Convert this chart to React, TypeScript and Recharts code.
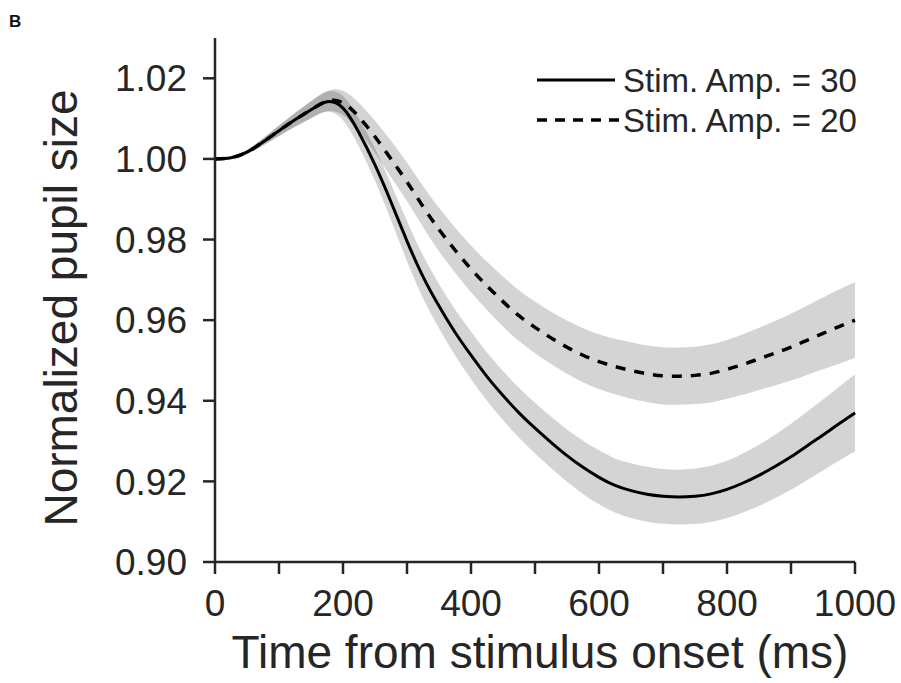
import React from 'react';
import { ComposedChart, Area, Line, XAxis, YAxis, Legend, Label } from 'recharts';

const FONT = '"Liberation Sans", Arial, Helvetica, sans-serif';
const INK = '#262626';

// time axis (ms)
const timeMs = [
  0, 25, 50, 75, 100, 125, 150, 175, 200, 225, 250, 275, 300, 325, 350, 375, 400, 425, 450, 475,
  500, 525, 550, 575, 600, 625, 650, 675, 700, 725, 750, 775, 800, 825, 850, 875, 900, 925, 950, 975, 1000,
];

// mean normalized pupil size, stim amp 30 (solid)
const amp30 = [
  1.0, 1.0003, 1.0017, 1.0042, 1.007, 1.0097, 1.0122, 1.0142, 1.0126, 1.0065, 0.9985, 0.9893, 0.9796, 0.9708,
  0.9635, 0.957, 0.9513, 0.946, 0.9413, 0.937, 0.9332, 0.9297, 0.9264, 0.9235, 0.921, 0.919, 0.9177, 0.9168,
  0.9163, 0.9161, 0.9163, 0.9169, 0.918, 0.9196, 0.9215, 0.9237, 0.9261, 0.9288, 0.9315, 0.9343, 0.937,
];

// mean normalized pupil size, stim amp 20 (dashed)
const amp20 = [
  1.0, 1.0003, 1.0017, 1.0042, 1.007, 1.0097, 1.0122, 1.0143, 1.0139, 1.0104, 1.0055, 1.0, 0.9943, 0.9882,
  0.9825, 0.9774, 0.9727, 0.9685, 0.9646, 0.9611, 0.9582, 0.9556, 0.9533, 0.9513, 0.9497, 0.9485, 0.9475,
  0.9467, 0.9462, 0.9461, 0.9463, 0.9468, 0.9478, 0.949, 0.9504, 0.9518, 0.9533, 0.955, 0.9567, 0.9584, 0.96,
];

// half-width of the shaded error band
const sem30 = [
  0, 0.0002, 0.0005, 0.0009, 0.0013, 0.0017, 0.0021, 0.0025, 0.003, 0.0035, 0.004, 0.0045, 0.005, 0.0053,
  0.0055, 0.0057, 0.0059, 0.006, 0.0061, 0.0062, 0.0063, 0.0064, 0.0065, 0.0066, 0.0067, 0.0067, 0.0068,
  0.0068, 0.0068, 0.0068, 0.0069, 0.007, 0.0071, 0.0073, 0.0076, 0.0079, 0.0082, 0.0085, 0.0088, 0.0092, 0.0095,
];
const sem20 = [
  0, 0.0002, 0.0005, 0.0009, 0.0013, 0.0017, 0.0021, 0.0025, 0.003, 0.0035, 0.004, 0.0045, 0.0048, 0.0051,
  0.0054, 0.0056, 0.0058, 0.006, 0.0062, 0.0063, 0.0064, 0.0065, 0.0066, 0.0067, 0.0068, 0.0069, 0.007,
  0.007, 0.0071, 0.0071, 0.0071, 0.0072, 0.0073, 0.0075, 0.0077, 0.008, 0.0083, 0.0086, 0.0089, 0.0092, 0.0094,
];

const seriesNames = ['Stim. Amp. = 30', 'Stim. Amp. = 20'];
const xTicks = [0, 100, 200, 300, 400, 500, 600, 700, 800, 900, 1000];
const yTicks = [0.9, 0.92, 0.94, 0.96, 0.98, 1.0, 1.02];

const rows = timeMs.map((t, i) => ({
  t,
  amp30: amp30[i],
  amp20: amp20[i],
  band30: [amp30[i] - sem30[i], amp30[i] + sem30[i]],
  band20: [amp20[i] - sem20[i], amp20[i] + sem20[i]],
}));

const LegendBox = () => (
  <svg width={340} height={90}>
    <line x1={7} x2={85} y1={20} y2={20} stroke="#000" strokeWidth={3} />
    <text x={93} y={32} fontSize={33} fill={INK} fontFamily={FONT}>{seriesNames[0]}</text>
    <line x1={7} x2={90} y1={60} y2={60} stroke="#000" strokeWidth={3.5} strokeDasharray="10 8" />
    <text x={93} y={72} fontSize={33} fill={INK} fontFamily={FONT}>{seriesNames[1]}</text>
  </svg>
);

export default function App() {
  const axisStyle = { stroke: INK, strokeWidth: 2.5 };
  return (
    <div style={{ position: 'absolute', left: 0, top: 0, width: 901, height: 683, background: '#fff', fontFamily: FONT }}>
      <div style={{ position: 'absolute', left: 9, top: 13, fontSize: 17, lineHeight: 1, fontWeight: 'bold', color: '#111' }}>B</div>
      <ComposedChart width={901} height={683} data={rows} margin={{ top: 38, right: 46, bottom: 0, left: 0 }}>
        <XAxis
          dataKey="t"
          type="number"
          domain={[0, 1000]}
          ticks={xTicks}
          interval={0}
          height={121}
          tickSize={12}
          tickMargin={16}
          axisLine={axisStyle}
          tickLine={axisStyle}
          tick={{ fontSize: 37, fill: INK, fontFamily: FONT }}
          tickFormatter={(v: number) => (v % 200 === 0 ? String(v) : '')}
        >
          <Label
            content={() => (
              <text x={540} y={668} textAnchor="middle" fontSize={46} fill={INK} fontFamily={FONT}>
                Time from stimulus onset (ms)
              </text>
            )}
          />
        </XAxis>
        <YAxis
          type="number"
          domain={[0.9, 1.03]}
          ticks={yTicks}
          interval={0}
          width={215}
          tickSize={12}
          tickMargin={16}
          axisLine={axisStyle}
          tickLine={axisStyle}
          allowDataOverflow
          tick={{ fontSize: 37, fill: INK, fontFamily: FONT }}
          tickFormatter={(v: number) => v.toFixed(2)}
        >
          <Label
            content={() => (
              <text x={77} y={308} transform="rotate(-90 77 308)" textAnchor="middle" fontSize={46} fill={INK} fontFamily={FONT}>
                Normalized pupil size
              </text>
            )}
          />
        </YAxis>
        <Area type="natural" dataKey="band30" stroke="none" fill="#000" fillOpacity={0.17} isAnimationActive={false} legendType="none" />
        <Area type="natural" dataKey="band20" stroke="none" fill="#000" fillOpacity={0.17} isAnimationActive={false} legendType="none" />
        <Line type="natural" dataKey="amp30" name={seriesNames[0]} stroke="#000" strokeWidth={3} dot={false} isAnimationActive={false} />
        <Line type="natural" dataKey="amp20" name={seriesNames[1]} stroke="#000" strokeWidth={3.5} strokeDasharray="10 9" dot={false} isAnimationActive={false} />
        <Legend
          layout="horizontal"
          verticalAlign="middle"
          align="center"
          content={() => <LegendBox />}
          wrapperStyle={{ position: 'absolute', left: 530, top: 60, width: 340, height: 90 }}
        />
      </ComposedChart>
    </div>
  );
}
